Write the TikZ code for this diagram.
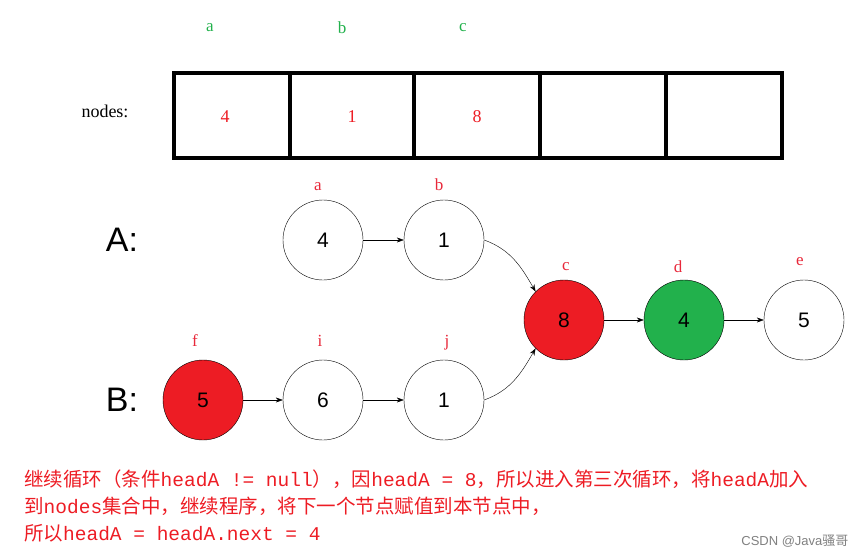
\documentclass[tikz,border=0pt]{standalone}
\usepackage{fontspec}
\setmainfont{Liberation Sans}
\newfontfamily\cjk{Noto Sans CJK SC}
\newfontfamily\mono{Liberation Mono}
\newfontfamily\serifl{Liberation Serif}
\usetikzlibrary{arrows.meta}
\definecolor{myred}{HTML}{ED1C24}
\definecolor{mygreen}{HTML}{22B14C}
\definecolor{lblred}{HTML}{E8283A}
\tikzset{x=1pt,y=-1pt,
 circ/.style={circle,draw,minimum size=80pt,inner sep=0pt,font=\fontsize{21}{21}\selectfont},
 lbl/.style={text=lblred,font=\serifl\fontsize{17}{17}\selectfont},
 glbl/.style={text=mygreen,font=\serifl\fontsize{17}{17}\selectfont},
 cell/.style={text=myred,font=\serifl\fontsize{18}{18}\selectfont},
 arr/.style={-{Stealth[length=7pt,width=5pt]},thin}}
\begin{document}
\begin{tikzpicture}
\useasboundingbox (0,0) rectangle (862,559);
\draw[line width=4pt] (174,73) rectangle (782,158);
\foreach \x in {290,414,540,666} \draw[line width=4pt] (\x,73)--(\x,158);
\node[font=\serifl\fontsize{18}{18}\selectfont] (nl) at (105,111) {nodes:};
\node[cell] (c1) at (225,117) {4};
\node[cell] (c2) at (352,117) {1};
\node[cell] (c3) at (477,117) {8};
\node[glbl] (g1) at (210,28) {a};
\node[glbl] (g2) at (342,28) {b};
\node[glbl] (g3) at (463,28) {c};
\node[font=\fontsize{34}{34}\selectfont] (A) at (122,240) {A:};
\node[font=\fontsize{34}{34}\selectfont] (B) at (122,400) {B:};
\node[circ] (a) at (323,240) {4};
\node[circ] (b) at (444,240) {1};
\node[circ,fill=myred] (c) at (564,320) {8};
\node[circ,fill=mygreen] (d) at (684,320) {4};
\node[circ] (e) at (804,320) {5};
\node[circ,fill=myred] (f) at (203,400) {5};
\node[circ] (i) at (323,400) {6};
\node[circ] (j) at (444,400) {1};
\node[lbl] (la) at (318,187) {a};
\node[lbl] (lb) at (439,185) {b};
\node[lbl] (lc) at (566,267) {c};
\node[lbl] (ld) at (678,267) {d};
\node[lbl] (le) at (800,262) {e};
\node[lbl] (lf) at (195,341) {f};
\node[lbl] (li) at (320,341) {i};
\node[lbl] (lj) at (447,343) {j};
\draw[arr] (a)--(b);
\draw[arr] (c)--(d);
\draw[arr] (d)--(e);
\draw[arr] (f)--(i);
\draw[arr] (i)--(j);
\draw[arr] (b.east) to[out=-20,in=120] (c.north west);
\draw[arr] (j.east) to[out=20,in=-120] (c.south west);
\node[anchor=west,text=myred,font=\cjk\fontsize{19.5}{27}\selectfont,align=left,inner sep=0pt] (t) at (24,506)
 {继续循环（条件{\mono headA != null}），因{\mono headA = 8}，所以进入第三次循环，将{\mono headA}加入\\
  到{\mono nodes}集合中，继续程序，将下一个节点赋值到本节点中，\\
  所以{\mono headA = headA.next = 4}};
\node[anchor=east,text=gray,font=\fontsize{13}{13}\selectfont] (w) at (852,541) {CSDN @Java{\cjk 骚哥}};
\end{tikzpicture}
\end{document}
